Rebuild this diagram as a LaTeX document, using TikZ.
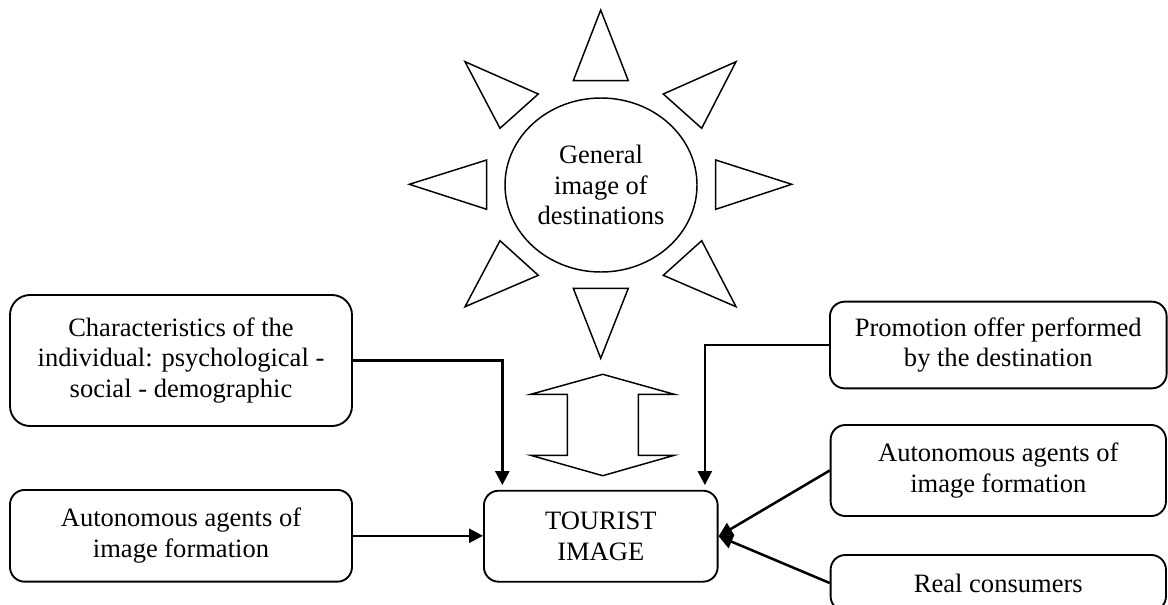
\documentclass[tikz,border=0pt]{standalone}
\usepackage{fontspec}
\setmainfont{Liberation Serif}
\usetikzlibrary{arrows.meta,shapes.geometric}
\begin{document}
\begin{tikzpicture}[x=0.75pt,y=-0.75pt,
  every node/.style={font=\fontsize{19.9}{23}\selectfont, align=center, inner sep=0pt},
  box/.style={draw, line width=1.4pt, rounded corners=11pt},
  ray/.style={draw, line width=1.1pt, line join=miter},
  conn/.style={line width=1.9pt, -{Triangle[length=10.5pt,width=10.5pt]}}
]
\useasboundingbox (0,0) rectangle (1168,604);
\clip (0,0) rectangle (1168,604);

% sun
\node[draw, ellipse, line width=1.1pt, minimum width=144pt, minimum height=130.5pt] (sun) at (601,185) {General\\image of\\destinations};
\draw[ray] (600.7,10) -- (573.3,80.7) -- (628.3,80.7) -- cycle;
\draw[ray] (736,61.7) -- (663.3,94) -- (701.7,128.3) -- cycle;
\draw[ray] (791.7,184.3) -- (715.7,160) -- (715.7,209.3) -- cycle;
\draw[ray] (736,306.7) -- (701.7,240.7) -- (663.3,275.3) -- cycle;
\draw[ray] (600.7,358.3) -- (573.3,288.3) -- (628.3,288.3) -- cycle;
\draw[ray] (465,306.7) -- (500,240.7) -- (538.3,275.3) -- cycle;
\draw[ray] (409.3,184.3) -- (486.7,160) -- (486.7,209.3) -- cycle;
\draw[ray] (465,61.7) -- (538.3,94) -- (500,128.3) -- cycle;

% double arrow
\draw[ray] (602.7,374.3) -- (674.3,394.3) -- (638.3,394.3) -- (638.3,455.3) -- (674.3,455.3)
  -- (602.7,475.7) -- (530.7,455.3) -- (567.3,455.3) -- (567.3,394.3) -- (530.7,394.3) -- cycle;

% boxes
\node[box, rounded corners=15pt, minimum width=256.5pt, minimum height=98.25pt] (char) at (181,360.5)
  {Characteristics of the\\individual: psychological -\\social - demographic};
\node[box, minimum width=256.5pt, minimum height=68.8pt] (autoL) at (181,535.8)
  {Autonomous agents of\\image formation};
\node[box, minimum width=175.3pt, minimum height=68.25pt] (tourist) at (600.8,536.2)
  {TOURIST\\IMAGE};
\node[box, minimum width=252.5pt, minimum height=65pt] (promo) at (998.3,345)
  {Promotion offer performed\\by the destination};
\node[box, minimum width=251.5pt, minimum height=68.25pt] (autoR) at (998.3,470.5)
  {Autonomous agents of\\image formation};
\node[box, minimum width=251.5pt, minimum height=42pt] (real) at (998.3,583)
  {Real consumers};

% connectors
\draw[conn, shorten >=3.5pt] (char.east) -| ([xshift=14.5pt]tourist.north west);
\draw[conn, shorten >=3.5pt] (promo.west) -| ([xshift=-10.3pt]tourist.north east);
\draw[conn] (autoL.east) -- (autoL.east -| tourist.west);
\draw[conn] (autoR.west) -- (tourist.east);
\draw[conn] (real.west) -- (tourist.east);
\end{tikzpicture}
\end{document}
